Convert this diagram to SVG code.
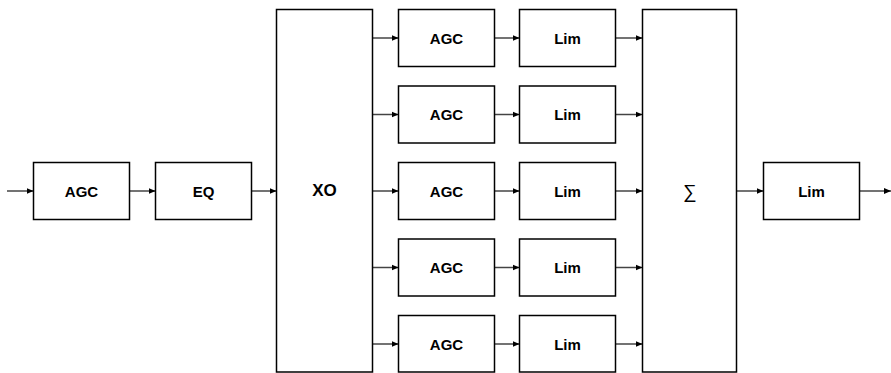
<svg xmlns="http://www.w3.org/2000/svg" width="891" height="373" viewBox="0 0 891 373">
<style>
.box{fill:#fff;stroke:#000;stroke-width:1.5}
.lbl{font-family:"Liberation Sans",Arial,sans-serif;font-weight:bold;font-size:15px;fill:#000;text-anchor:middle;dominant-baseline:central}
.con{stroke:#444;stroke-width:1.5;fill:none;marker-end:url(#ah)}
</style>
<defs>
<marker id="ah" markerWidth="8" markerHeight="8" refX="7" refY="4" orient="auto" markerUnits="userSpaceOnUse">
<path d="M0,1 L7,4 L0,7 Z" fill="#000"/>
</marker>
</defs>
<rect width="891" height="373" fill="#fff"/>
<g id="connectors">
<line class="con" x1="7" y1="191" x2="33.5" y2="191"/>
<line class="con" x1="129.5" y1="191" x2="155.5" y2="191"/>
<line class="con" x1="251.5" y1="191" x2="276.5" y2="191"/>
<line class="con" x1="372.5" y1="38" x2="398.5" y2="38"/>
<line class="con" x1="372.5" y1="114.5" x2="398.5" y2="114.5"/>
<line class="con" x1="372.5" y1="191" x2="398.5" y2="191"/>
<line class="con" x1="372.5" y1="267.5" x2="398.5" y2="267.5"/>
<line class="con" x1="372.5" y1="344" x2="398.5" y2="344"/>
<line class="con" x1="494.5" y1="38" x2="519.5" y2="38"/>
<line class="con" x1="494.5" y1="114.5" x2="519.5" y2="114.5"/>
<line class="con" x1="494.5" y1="191" x2="519.5" y2="191"/>
<line class="con" x1="494.5" y1="267.5" x2="519.5" y2="267.5"/>
<line class="con" x1="494.5" y1="344" x2="519.5" y2="344"/>
<line class="con" x1="615.5" y1="38" x2="642.5" y2="38"/>
<line class="con" x1="615.5" y1="114.5" x2="642.5" y2="114.5"/>
<line class="con" x1="615.5" y1="191" x2="642.5" y2="191"/>
<line class="con" x1="615.5" y1="267.5" x2="642.5" y2="267.5"/>
<line class="con" x1="615.5" y1="344" x2="642.5" y2="344"/>
<line class="con" x1="736.5" y1="191" x2="763.5" y2="191"/>
<line class="con" x1="859.5" y1="191" x2="891" y2="191"/>
</g>
<g id="agc_in"><rect class="box" x="33.5" y="162.5" width="96" height="57"/><text class="lbl" x="81.5" y="191">AGC</text></g>
<g id="eq"><rect class="box" x="155.5" y="162.5" width="96" height="57"/><text class="lbl" x="203.5" y="191">EQ</text></g>
<g id="xo"><rect class="box" x="276.5" y="9.5" width="96" height="362.5"/><text class="lbl" x="324.5" y="190.5" style="font-size:17px">XO</text></g>
<g id="agc1"><rect class="box" x="398.5" y="9.5" width="96" height="57"/><text class="lbl" x="446.5" y="38">AGC</text></g>
<g id="agc2"><rect class="box" x="398.5" y="86" width="96" height="57"/><text class="lbl" x="446.5" y="114.5">AGC</text></g>
<g id="agc3"><rect class="box" x="398.5" y="162.5" width="96" height="57"/><text class="lbl" x="446.5" y="191">AGC</text></g>
<g id="agc4"><rect class="box" x="398.5" y="239" width="96" height="57"/><text class="lbl" x="446.5" y="267.5">AGC</text></g>
<g id="agc5"><rect class="box" x="398.5" y="315.5" width="96" height="56.5"/><text class="lbl" x="446.5" y="344">AGC</text></g>
<g id="lim1"><rect class="box" x="519.5" y="9.5" width="96" height="57"/><text class="lbl" x="567.5" y="38">Lim</text></g>
<g id="lim2"><rect class="box" x="519.5" y="86" width="96" height="57"/><text class="lbl" x="567.5" y="114.5">Lim</text></g>
<g id="lim3"><rect class="box" x="519.5" y="162.5" width="96" height="57"/><text class="lbl" x="567.5" y="191">Lim</text></g>
<g id="lim4"><rect class="box" x="519.5" y="239" width="96" height="57"/><text class="lbl" x="567.5" y="267.5">Lim</text></g>
<g id="lim5"><rect class="box" x="519.5" y="315.5" width="96" height="56.5"/><text class="lbl" x="567.5" y="344">Lim</text></g>
<g id="sum"><rect class="box" x="642.5" y="9.5" width="94" height="362.5"/><text class="lbl" x="690" y="191" style="font-weight:normal;font-size:19px">∑</text></g>
<g id="lim_out"><rect class="box" x="763.5" y="162.5" width="96" height="57"/><text class="lbl" x="811.5" y="191">Lim</text></g>
</svg>
